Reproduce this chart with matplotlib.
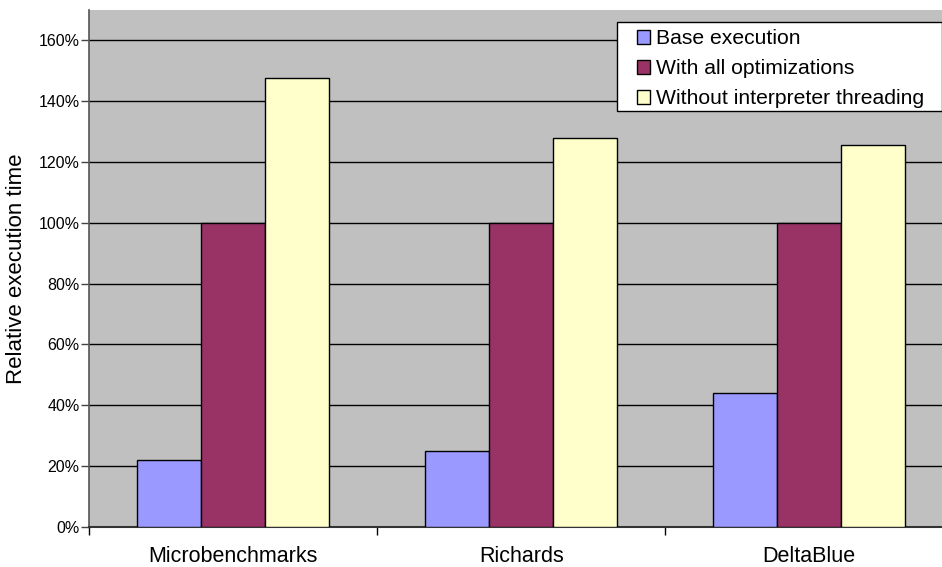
import matplotlib
matplotlib.use("Agg")
import matplotlib.pyplot as plt
import numpy as np
from matplotlib.patches import Patch, Rectangle
from matplotlib.ticker import FuncFormatter, FixedLocator

plt.rcParams['font.family'] = ['Liberation Sans', 'DejaVu Sans']

categories = ["Microbenchmarks", "Richards", "DeltaBlue"]
series_names = ["Base execution", "With all optimizations", "Without interpreter threading"]
base_execution = [22, 25, 44]
all_optimizations = [100, 100, 100]
no_threading = [147.5, 128, 125.7]
y_ticks = [0, 20, 40, 60, 80, 100, 120, 140, 160]

colors = ["#9999FF", "#993366", "#FFFFCC"]
series = [base_execution, all_optimizations, no_threading]

W, H = 942, 567
fig = plt.figure(figsize=(W / 100, H / 100), dpi=100)
ax = fig.add_axes([89.3 / W, 40.2 / H, 864 / W, 516.8 / H])
ax.set_facecolor("#C0C0C0")

x = np.arange(len(categories))
bar_w = 1 / 4.5
for i, (vals, c) in enumerate(zip(series, colors)):
    ax.bar(x + (i - 1) * bar_w, vals, width=bar_w, color=c,
           edgecolor="black", linewidth=1.0, zorder=3)

ax.set_xlim(-0.5, len(categories) - 0.5)
ax.set_ylim(0, 170)
ax.yaxis.set_major_locator(FixedLocator(y_ticks))
ax.yaxis.set_major_formatter(FuncFormatter(lambda v, p: f"{int(v)}%"))
ax.grid(axis="y", color="black", linewidth=1.0, zorder=1)
ax.set_axisbelow(True)

# category labels centred, ticks on the boundaries between categories
ax.set_xticks(x)
ax.set_xticklabels(categories, fontsize=15.5)
ax.tick_params(axis="x", length=0, pad=14)
ax.set_xticks(np.arange(-0.5, len(categories)), minor=True)
ax.tick_params(axis="x", which="minor", length=6, width=1, color="black")
ax.tick_params(axis="y", length=6, width=1, color="#444444", labelsize=11.5, pad=1)

for s in ["top", "right"]:
    ax.spines[s].set_visible(False)
ax.spines["left"].set_color("#555555")
ax.spines["bottom"].set_color("#333333")
ax.spines["left"].set_linewidth(1.2)
ax.spines["bottom"].set_linewidth(1.5)

ax.set_ylabel("Relative execution time", fontsize=16, labelpad=8)

# legend box: white panel with a thin black border, entries drawn on top
box_l, box_t, box_r, box_b = 617, 22, 942, 111
fig.patches.append(Rectangle((box_l / W, 1 - box_b / H), (box_r - box_l) / W,
                             (box_b - box_t) / H, transform=fig.transFigure,
                             facecolor="white", edgecolor="black",
                             linewidth=1.0, zorder=4))

handles = [Patch(facecolor=c, edgecolor="black", linewidth=1.0) for c in colors]
leg = fig.legend(handles, series_names, loc="upper left",
                 bbox_to_anchor=(637 / W, 1 - 29.5 / H),
                 fontsize=15.2, frameon=False,
                 handlelength=0.62, handleheight=0.62, handletextpad=0.3,
                 labelspacing=0.52, borderpad=0, borderaxespad=0)
leg.set_zorder(5)

fig.savefig("out.png", dpi=100)
